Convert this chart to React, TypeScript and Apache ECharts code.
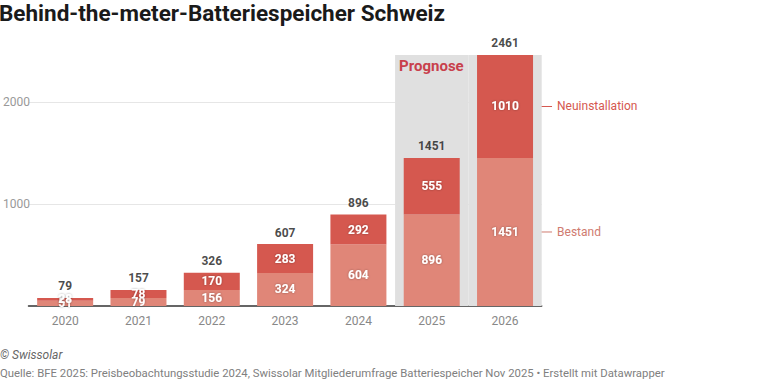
import React, { useEffect, useRef } from "react";
import * as echarts from "echarts";

const categories = ["2020", "2021", "2022", "2023", "2024", "2025", "2026"];
const bestand = [51, 79, 156, 324, 604, 896, 1451];
const neuinstallation = [28, 78, 170, 283, 292, 555, 1010];
const totals = [79, 157, 326, 607, 896, 1451, 2461];
const forecastCategories = ["2025", "2026"];
const forecastLabel = "Prognose";
const seriesNames = ["Bestand", "Neuinstallation"];

const TITLE = "Behind-the-meter-Batteriespeicher Schweiz";
const CREDIT = "© Swissolar";
const SOURCE =
  "Quelle: BFE 2025: Preisbeobachtungsstudie 2024, Swissolar Mitgliederumfrage Batteriespeicher Nov 2025 • Erstellt mit Datawrapper";

const COLOR_NEU = "#d5584f";
const COLOR_BESTAND = "#e08678";
const FONT = "Roboto, 'Noto Sans', sans-serif";
const BAR_W = 56;

export default function App() {
  const ref = useRef<HTMLDivElement | null>(null);

  useEffect(() => {
    if (!ref.current) return;
    const chart = echarts.init(ref.current, null, { renderer: "svg" });
    const forecastTop = Math.max(...totals);
    const innerLabel = {
      show: true,
      position: "inside",
      color: "#ffffff",
      fontFamily: FONT,
      fontSize: 12,
      fontWeight: "bold",
      textShadowColor: "rgba(0,0,0,0.35)",
      textShadowBlur: 2,
    };

    chart.setOption({
      animation: false,
      textStyle: { fontFamily: FONT },
      title: {
        text: TITLE,
        left: -1,
        top: 1,
        padding: 0,
        textStyle: { fontFamily: FONT, fontSize: 22.5, fontWeight: "bold", color: "#1a1a1a" },
      },
      grid: { left: 28.5, right: 226.3, top: 51, bottom: 78, containLabel: false },
      xAxis: [
        {
          type: "category",
          data: categories,
          axisLine: { lineStyle: { color: "#333333", width: 1.5 } },
          axisTick: { show: false },
          axisLabel: { color: "#888888", fontSize: 12, margin: 9, fontFamily: FONT },
        },
        {
          type: "category",
          data: categories,
          show: false,
        },
      ],
      yAxis: {
        type: "value",
        min: 0,
        max: 2500,
        interval: 1000,
        axisLine: { show: false },
        axisTick: { show: false },
        splitLine: { show: true, showMinLine: false, showMaxLine: false, lineStyle: { color: "#e6e6e6", width: 1 } },
        axisLabel: {
          showMinLabel: false,
          showMaxLabel: false,
          align: "left",
          margin: 25.5,
          color: "#999999",
          fontSize: 12,
          fontFamily: FONT,
          formatter: (v: number) => String(v),
        },
      },
      series: [
        {
          name: forecastLabel,
          type: "bar",
          xAxisIndex: 1,
          barWidth: "100%",
          barCategoryGap: 0,
          z: 1,
          silent: true,
          itemStyle: { color: "#e0e0e0" },
          data: categories.map((c) =>
            forecastCategories.includes(c)
              ? {
                  value: forecastTop,
                  label:
                    c === forecastCategories[0]
                      ? {
                          show: true,
                          position: [4, 4],
                          formatter: forecastLabel,
                          color: "#c8404c",
                          fontSize: 15,
                          fontWeight: "bold",
                          fontFamily: FONT,
                        }
                      : { show: false },
                }
              : "-"
          ),
        },
        {
          name: seriesNames[0],
          type: "bar",
          stack: "total",
          barWidth: BAR_W,
          z: 3,
          itemStyle: { color: COLOR_BESTAND },
          label: innerLabel,
          data: bestand,
        },
        {
          name: seriesNames[1],
          type: "bar",
          stack: "total",
          barWidth: BAR_W,
          z: 3,
          itemStyle: { color: COLOR_NEU },
          label: innerLabel,
          data: neuinstallation,
        },
        {
          name: "Total",
          type: "scatter",
          z: 4,
          symbolSize: 1,
          silent: true,
          itemStyle: { color: "rgba(0,0,0,0)" },
          label: {
            show: true,
            position: "top",
            distance: 5,
            color: "#1a1a1a",
            fontSize: 12,
            fontWeight: "bold",
            fontFamily: FONT,
            formatter: (p: any) => String(totals[p.dataIndex]),
          },
          data: totals,
        },
      ],
    });

    const last = categories.length - 1;
    const xc = chart.convertToPixel({ xAxisIndex: 0 }, categories[last]) as number;
    const xEdge = xc + BAR_W / 2;
    const yBestand = chart.convertToPixel({ yAxisIndex: 0 }, bestand[last] / 2) as number;
    const yNeu = chart.convertToPixel({ yAxisIndex: 0 }, bestand[last] + neuinstallation[last] / 2) as number;

    const annot = (y: number, text: string, color: string) => [
      { type: "line", shape: { x1: xEdge, y1: y, x2: xEdge + 19, y2: y }, style: { stroke: color, lineWidth: 1 } },
      {
        type: "text",
        x: xEdge + 24,
        y,
        style: { text, fill: color, fontSize: 12, fontFamily: FONT, verticalAlign: "middle", align: "left" },
      },
    ];

    chart.setOption({
      graphic: [
        ...annot(yNeu, seriesNames[1], COLOR_NEU),
        ...annot(yBestand, seriesNames[0], "#cf7b70"),
        {
          type: "text",
          x: 0,
          y: 355,
          style: { text: CREDIT, fill: "#666666", fontSize: 12, fontStyle: "italic", fontFamily: FONT, verticalAlign: "middle" },
        },
        {
          type: "text",
          x: 0,
          y: 373,
          style: { text: SOURCE, fill: "#808080", fontSize: 11.35, fontFamily: FONT, verticalAlign: "middle" },
        },
      ],
    });

    return () => chart.dispose();
  }, []);

  return (
    <div
      ref={ref}
      style={{ position: "absolute", left: 0, top: 0, width: 768, height: 384, background: "#ffffff" }}
    />
  );
}
